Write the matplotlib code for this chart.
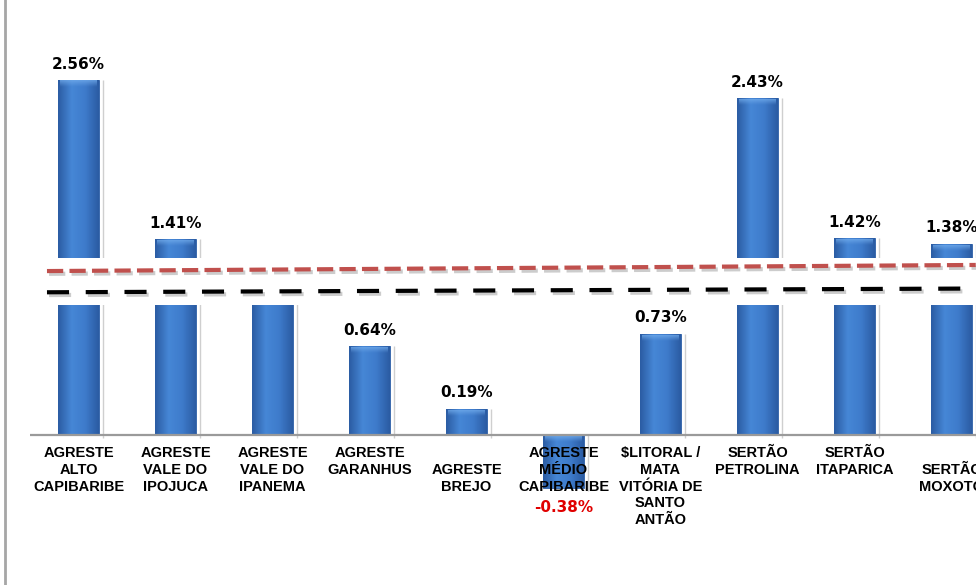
import numpy as np
import matplotlib
matplotlib.use("Agg")
import matplotlib.pyplot as plt
import matplotlib.patheffects as pe
from matplotlib.colors import LinearSegmentedColormap
from matplotlib.lines import Line2D

# regions and growth rates (%)
REGIONS = ["AGRESTE\nALTO\nCAPIBARIBE", "AGRESTE\nVALE DO\nIPOJUCA",
           "AGRESTE\nVALE DO\nIPANEMA", "AGRESTE\nGARANHUS",
           "\nAGRESTE\nBREJO", "AGRESTE\nMÉDIO\nCAPIBARIBE",
           "$LITORAL /\nMATA\nVITÓRIA DE\nSANTO\nANTÃO", "SERTÃO\nPETROLINA",
           "SERTÃO\nITAPARICA", "\nSERTÃO\nMOXOTÓ"]
GROWTH = [2.56, 1.41, 1.00, 0.64, 0.19, -0.38, 0.73, 2.43, 1.42, 1.38]

# the two dashed reference lines (start / end value, %)
REF_RED = [1.182, 1.226]
REF_BLACK = [1.029, 1.056]
REF_X = [-0.325, 9.25]

# white strip hiding the middle of the bars
STRIP = (0.937, 1.276)

W, H = 976, 585
fig = plt.figure(figsize=(W / 100, H / 100), dpi=100)
ax = fig.add_axes([30 / W, 0, 970 / W, 1])
ax.set_axis_off()

x = np.arange(len(GROWTH))
BW = 0.42
bars = ax.bar(x, GROWTH, width=BW, color="#3b75c4", edgecolor="#2d5fa6",
              linewidth=0.6, zorder=2)

# horizontal gradient inside each bar, plus a soft lighter cap on top
cmap = LinearSegmentedColormap.from_list("barg", ["#2b5ca3", "#4687d6", "#3e7bcb", "#2b5ca3"])
capmap = LinearSegmentedColormap.from_list("cap", [(0.42, 0.64, 0.9, 0.0), (0.45, 0.68, 0.93, 0.75)])
grad = np.linspace(0, 1, 64)[None, :]
vgrad = np.linspace(0, 1, 16)[:, None]
px = 1 / 138.7   # one pixel in data units (y)
for xi, v, b in zip(x, GROWTH, bars):
    y0, y1 = min(0, v), max(0, v)
    im = ax.imshow(grad, cmap=cmap, extent=(xi - BW / 2, xi + BW / 2, y0, y1),
                   aspect="auto", zorder=2.1, interpolation="bicubic")
    im.set_clip_path(b)
    cap = ax.imshow(vgrad, cmap=capmap, origin="lower",
                    extent=(xi - BW / 2 + 0.02, xi + BW / 2 - 0.02, y1 - 7 * px, y1 - 1 * px),
                    aspect="auto", zorder=2.2, interpolation="bicubic")
    cap.set_clip_path(b)
    # faint shadow line at right edge
    ax.vlines(xi + BW / 2 + 0.04, y0 - 3 * px, y1, color="#cfcfcf", lw=1, zorder=1.5)

ax.axhline(0, color="#9a9a9a", lw=1.6, zorder=3)

# value labels
for xi, v in zip(x, GROWTH):
    if v >= 0:
        ax.annotate(f"{v:.2f}%", (xi, v), xytext=(0, 6), textcoords="offset points",
                    ha="center", va="bottom", fontsize=11, fontweight="bold",
                    family="DejaVu Sans", color="black", zorder=3)
    else:
        ax.annotate(f"{v:.2f}%", (xi, v), xytext=(0, -9), textcoords="offset points",
                    ha="center", va="top", fontsize=11, fontweight="bold",
                    family="DejaVu Sans", color="#e00000", zorder=6)

# category labels
for xi, lab in zip(x, REGIONS):
    ax.annotate(lab, (xi, 0), xytext=(0, -8), textcoords="offset points",
                ha="center", va="top", fontsize=10.5, fontweight="bold",
                family="Liberation Sans", linespacing=1.25, color="black", zorder=6)

# white strip + dashed reference lines
ax.axhspan(*STRIP, color="white", lw=0, zorder=4)
shadow = [pe.SimpleLineShadow(offset=(1.5, -2), alpha=0.2), pe.Normal()]
ax.plot(REF_X, REF_RED, color="#c0504d", lw=3, dashes=(3.9, 1.5),
        solid_capstyle="butt", zorder=5, path_effects=shadow)
ax.plot(REF_X, REF_BLACK, color="black", lw=3, dashes=(5.3, 4),
        zorder=5, path_effects=shadow)

ax.set_xlim(-0.5, 9.5)
ax.set_ylim(-150 * px, 435 * px)

# slide frame on the left
fig.add_artist(Line2D([5 / W, 5 / W], [0, 1], color="#a6a6a6", lw=2))

fig.savefig("out.png", dpi=100)
